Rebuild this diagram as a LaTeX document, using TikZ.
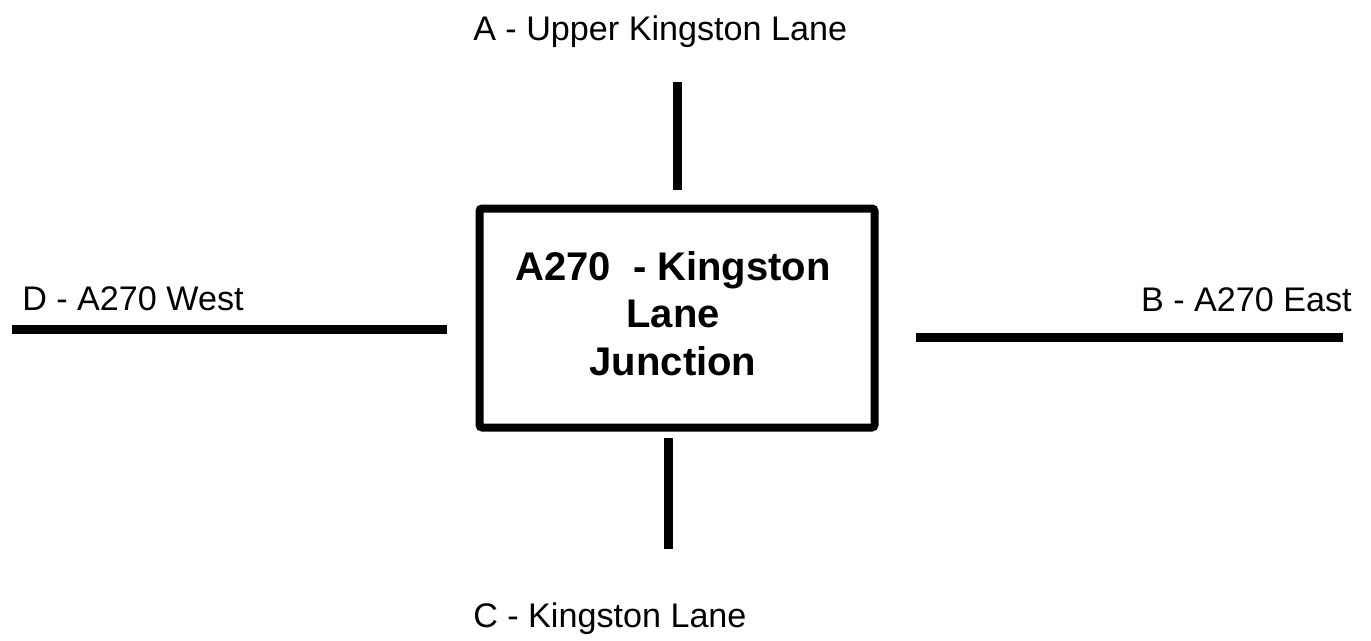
\documentclass[tikz,border=0pt]{standalone}
\usepackage{fontspec}
\setmainfont{Liberation Sans}
\tikzset{
  road/.style={line width=6.75pt, line cap=butt},
  junctionbox/.style={draw, line width=6pt, rounded corners=2pt, minimum width=296.25pt, minimum height=164.25pt, inner sep=0pt},
  roadlabel/.style={inner sep=0pt, font=\fontsize{25.6pt}{30pt}\selectfont},
}
\begin{document}
\begin{tikzpicture}[x=0.75pt,y=-0.75pt]
\useasboundingbox (0,0) rectangle (1371,640);
\node[junctionbox] (box) at (677,318) {};
\node[inner sep=0pt, align=center, anchor=base, font=\fontsize{30pt}{35.4pt}\selectfont\bfseries] (title) at (673,375) {A270\ \ - Kingston\\Lane\\Junction};
\coordinate (a1) at (677.5,82);
\coordinate (a2) at (677.5,190);
\coordinate (c1) at (668,438);
\coordinate (c2) at (668,549);
\coordinate (d1) at (12,329.5);
\coordinate (d2) at (447,329.5);
\coordinate (b1) at (916,337);
\coordinate (b2) at (1343,337);
\draw[road] (a1) -- (a2);
\draw[road] (c1) -- (c2);
\draw[road] (d1) -- (d2);
\draw[road] (b1) -- (b2);
\node[roadlabel, anchor=base west] (la) at (473,40) {A - Upper Kingston Lane};
\node[roadlabel, anchor=base west] (lc) at (473,627) {C - Kingston Lane};
\node[roadlabel, anchor=base west] (ld) at (22,310) {D - A270 West};
\node[roadlabel, anchor=base east] (lb) at (1352,311) {B - A270 East};
\end{tikzpicture}
\end{document}
